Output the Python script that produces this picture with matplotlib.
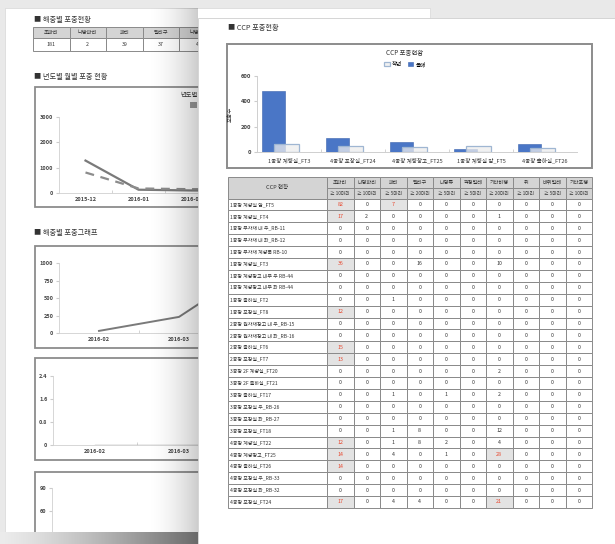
import matplotlib
matplotlib.use('Agg')
import matplotlib.pyplot as plt
import numpy as np
from matplotlib.patches import Rectangle
from matplotlib.colors import to_rgba

plt.rcParams['font.family'] = ['Noto Sans CJK KR', 'DejaVu Sans']

W, H = 615, 544

# ---------------- data ----------------
pests = ['초파리', '나방파리', '파리', '멸리구', '나방류', '깍정벌레', '기타비행', '쥐', '바퀴벌레', '기타포행']
thresholds = [10, 10, 5, 20, 5, 5, 20, 1, 5, 10]

locations = [
    '1공장 계량실 앞_FT5', '1공장 계량실_FT4', '1공장 부자재 내 우_RB-11', '1공장 부자재 내 좌_RB-12',
    '1공장 부자재 계량록 RB-10', '1공장 계량실_FT3', '1공장 계량창고 내부 우 RB-44',
    '1공장 계량창고 내부 좌 RB-44', '1공장 출하실_FT2', '1공장 포장실_FT8',
    '2공장 원자재창고 내 우_RB-15', '2공장 원자재창고 내 좌_RB-16', '2공장 출하실_FT6',
    '2공장 포장실_FT7', '3공장 2F 계량실_FT20', '3공장 2F 출하실_FT21', '3공장 출하실_FT17',
    '3공장 포장실 우_RB-26', '3공장 포장실 좌_RB-27', '3공장 포장실_FT18', '4공장 계량실_FT22',
    '4공장 계량창고_FT25', '4공장 출하실_FT26', '4공장 포장실 우_RB-33', '4공장 포장실 좌_RB-32',
    '4공장 포장실_FT24']

counts = [
    [82, 0, 7, 0, 0, 0, 0, 0, 0, 0],
    [17, 2, 0, 0, 0, 0, 1, 0, 0, 0],
    [0, 0, 0, 0, 0, 0, 0, 0, 0, 0],
    [0, 0, 0, 0, 0, 0, 0, 0, 0, 0],
    [0, 0, 0, 0, 0, 0, 0, 0, 0, 0],
    [36, 0, 0, 16, 0, 0, 10, 0, 0, 0],
    [0, 0, 0, 0, 0, 0, 0, 0, 0, 0],
    [0, 0, 0, 0, 0, 0, 0, 0, 0, 0],
    [0, 0, 1, 0, 0, 0, 0, 0, 0, 0],
    [12, 0, 0, 0, 0, 0, 0, 0, 0, 0],
    [0, 0, 0, 0, 0, 0, 0, 0, 0, 0],
    [0, 0, 0, 0, 0, 0, 0, 0, 0, 0],
    [15, 0, 0, 0, 0, 0, 0, 0, 0, 0],
    [13, 0, 0, 0, 0, 0, 0, 0, 0, 0],
    [0, 0, 0, 0, 0, 0, 2, 0, 0, 0],
    [0, 0, 0, 0, 0, 0, 0, 0, 0, 0],
    [0, 0, 1, 0, 1, 0, 2, 0, 0, 0],
    [0, 0, 0, 0, 0, 0, 0, 0, 0, 0],
    [0, 0, 0, 0, 0, 0, 0, 0, 0, 0],
    [0, 0, 1, 8, 0, 0, 12, 0, 0, 0],
    [12, 0, 1, 8, 2, 0, 4, 0, 0, 0],
    [14, 0, 4, 0, 1, 0, 28, 0, 0, 0],
    [14, 0, 0, 0, 0, 0, 0, 0, 0, 0],
    [0, 0, 0, 0, 0, 0, 0, 0, 0, 0],
    [0, 0, 0, 0, 0, 0, 0, 0, 0, 0],
    [17, 0, 4, 4, 0, 0, 21, 0, 0, 0],
]

ccp_cats = ['1공장 계량실_FT3', '4공장 포장실_FT24', '4공장 계량창고_FT25', '1공장 계량실 앞_FT5', '4공장 출하실_FT26']
ccp_this = [485, 110, 79, 21, 66]
ccp_last = [61, 47, 42, 45, 35]

summary_pests = ['초파리', '나방파리', '파리', '멸리구', '나방류']
summary_vals = [181, 2, 39, 37, 4]

monthly_cats = ['2015-12', '2016-01', '2016-02', '2016-03']
monthly_a = [1280, 130, 100, 90]
monthly_b = [810, 180, 150, 150]

graph_cats = ['2016-02', '2016-03', '2016-04']
graph_a = [30, 230, 980]
graph_b = [0, 0, 0]
graph_c = [0, 0, 0]

# ---------------- helpers ----------------
fig = plt.figure(figsize=(W / 100, H / 100), dpi=100)
fig.patch.set_facecolor('#e9e9e9')
TXT = '#333333'
FRONT_X = 198  # left edge of the front page


def rect(x0, y0, x1, y1):
    return [x0 / W, 1 - y1 / H, (x1 - x0) / W, (y1 - y0) / H]


def full_axes(z):
    a = fig.add_axes([0, 0, 1, 1], zorder=z)
    a.set_xlim(0, W)
    a.set_ylim(H, 0)
    a.axis('off')
    a.patch.set_visible(False)
    a.set_autoscale_on(False)
    return a


def cell(ax, x0, y0, w, h, text, fc='white', color=TXT, fs=4.0, ec='#8a8a8a', lw=0.7,
         ha='center', weight='normal'):
    ax.add_patch(Rectangle((x0, y0), w, h, fc=fc, ec=ec, lw=lw))
    tx = x0 + w / 2 if ha == 'center' else x0 + 2.5
    ax.text(tx, y0 + h / 2, text, ha=ha, va='center', fontsize=fs, color=color, fontweight=weight)


def gradient(ax, x0, x1, y0, y1, c0, c1, power=1.0):
    n = 256
    t = np.linspace(0, 1, n) ** power
    a = np.array(to_rgba(c0))
    b = np.array(to_rgba(c1))
    img = (a[None, :] * (1 - t[:, None]) + b[None, :] * t[:, None])[None, :, :]
    ax.imshow(img, extent=(x0, x1, y1, y0), aspect='auto', interpolation='bilinear', zorder=1)


# ---------------- back page ----------------
bg = full_axes(0)
bg.add_patch(Rectangle((5, 8), 425, 524, fc='white', ec='#d6d6d6', lw=0.5))
bg.text(34, 20, '■ 해충별 포충현황', fontsize=5.2, color=TXT, va='center')
bx, bw = 33, 36.5
for i, (p, v) in enumerate(zip(summary_pests, summary_vals)):
    cell(bg, bx + i * bw, 27, bw, 11, p, fc='#d4d4d4', fs=3.8)
    cell(bg, bx + i * bw, 38, bw, 13, str(v), fs=3.8)

bg.text(34, 77, '■ 년도별 월별 포충 현황', fontsize=5.2, color=TXT, va='center')
bg.text(34, 233, '■ 해충별 포충그래프', fontsize=5.2, color=TXT, va='center')
for (y0, y1) in [(87, 207), (246, 348), (358, 460), (472, 600)]:
    bg.add_patch(Rectangle((35, y0), 395, y1 - y0, fc='white', ec='#8c8c8c', lw=1.3))
bg.text(180, 95, '년도별', fontsize=4.5, color=TXT, ha='left', va='center')
bg.add_patch(Rectangle((190, 102), 7, 6, fc='#9a9a9a', ec='none'))


def style_line_ax(ax, cats, yt, ylim, left_px, step_px, show_x=True):
    ax.set_xlim(-0.5, len(cats) - 0.5)
    ax.set_ylim(*ylim)
    ax.set_xticks(range(len(cats)))
    labs = ax.set_xticklabels(cats, fontsize=4.0, color='#444', fontweight='bold')
    for k, lab in enumerate(labs):
        # labels that sit wholly under the front page are not visible in the picture
        if (not show_x) or left_px + (k + 0.5) * step_px - 14 > FRONT_X:
            lab.set_visible(False)
    ax.set_xticks(np.arange(len(cats) - 1) + 0.5, minor=True)
    ax.set_yticks(yt)
    ax.set_yticklabels([f'{v:g}' for v in yt], fontsize=4.0, color='#444', fontweight='bold')
    for s in ['top', 'right']:
        ax.spines[s].set_visible(False)
    for s in ['left', 'bottom']:
        ax.spines[s].set_color('#d0d0d0')
        ax.spines[s].set_linewidth(0.6)
    ax.tick_params(axis='y', length=2, color='#cccccc', pad=2)
    ax.tick_params(axis='x', which='major', length=0, pad=3)
    ax.tick_params(axis='x', which='minor', length=2, direction='in', color='#cccccc')
    ax.patch.set_visible(False)


a1 = fig.add_axes(rect(59, 117, 59 + 4 * 53, 193), zorder=1)
a1.plot(range(len(monthly_cats)), monthly_a, color='#7a7a7a', lw=1.6)
a1.plot(range(len(monthly_cats)), monthly_b, color='#8c8c8c', lw=1.6, dashes=(4, 3))
style_line_ax(a1, monthly_cats, [0, 1000, 2000, 3000], (0, 3000), 59, 53)

a2 = fig.add_axes(rect(59, 263, 59 + 3 * 80, 333), zorder=1)
a2.plot(range(len(graph_cats)), graph_a, color='#7a7a7a', lw=1.4)
style_line_ax(a2, graph_cats, [0, 250, 500, 750, 1000], (0, 1000), 59, 80)

a3 = fig.add_axes(rect(53, 376, 53 + 3 * 84, 445), zorder=1)
a3.plot(range(len(graph_cats)), graph_b, color='#9a9a9a', lw=1.0)
style_line_ax(a3, graph_cats, [0, 0.8, 1.6, 2.4], (0, 2.4), 53, 84)

a4 = fig.add_axes(rect(52, 488, 52 + 3 * 84, 557), zorder=1)
a4.plot(range(len(graph_cats)), graph_c, color='#9a9a9a', lw=1.0)
style_line_ax(a4, graph_cats, [30, 60, 90], (0, 90), 52, 84, show_x=False)

# ---------------- front layer ----------------
fr = full_axes(5)
gradient(fr, 145, 198, 8, 532, (0, 0, 0, 0.0), (0, 0, 0, 0.2), power=1.8)
gradient(fr, 0, 198, 532, 544, '#ececec', '#6a6a6a', power=1.3)
fr.add_patch(Rectangle((198, 18), 420, 530, fc='white', ec='#cfcfcf', lw=0.6, zorder=2))

fr.text(228, 28, '■ CCP 포충현황', fontsize=5.2, color=TXT, va='center', zorder=3)
fr.add_patch(Rectangle((227, 44), 365, 124, fc='white', ec='#8c8c8c', lw=1.4, zorder=3))
fr.text(405, 53, 'CCP 포충현황', fontsize=4.6, color=TXT, ha='center', va='center', zorder=4)

# table
tx0, tlab, tx1 = 228, 327, 592
cw = (tx1 - tlab) / len(pests)
hy0, hy1, hy2 = 177, 188, 198.5
rh = 11.9
fr.add_patch(Rectangle((tx0, hy0), tlab - tx0, hy2 - hy0, fc='#d4d4d4', ec='#8a8a8a', lw=0.7, zorder=3))
fr.text((tx0 + tlab) / 2, (hy0 + hy2) / 2, 'CCP 현황', fontsize=4.0, color=TXT,
        ha='center', va='center', zorder=4)
for j, (p, th) in enumerate(zip(pests, thresholds)):
    x = tlab + j * cw
    fr.add_patch(Rectangle((x, hy0), cw, hy1 - hy0, fc='#d4d4d4', ec='#8a8a8a', lw=0.7, zorder=3))
    fr.text(x + cw / 2, (hy0 + hy1) / 2, p, fontsize=3.7, color=TXT, ha='center', va='center', zorder=4)
    fr.add_patch(Rectangle((x, hy1), cw, hy2 - hy1, fc='#d4d4d4', ec='#8a8a8a', lw=0.7, zorder=3))
    fr.text(x + cw / 2, (hy1 + hy2) / 2, f'≥ {th}마리', fontsize=3.4, color=TXT,
            ha='center', va='center', zorder=4)

for i, (loc, row) in enumerate(zip(locations, counts)):
    y = hy2 + i * rh
    fr.add_patch(Rectangle((tx0, y), tlab - tx0, rh, fc='white', ec='#8a8a8a', lw=0.7, zorder=3))
    fr.text(tx0 + 2.5, y + rh / 2, loc, fontsize=3.6, color=TXT, ha='left', va='center', zorder=4)
    for j, (v, th) in enumerate(zip(row, thresholds)):
        hot = v >= th
        x = tlab + j * cw
        fr.add_patch(Rectangle((x, y), cw, rh, fc='#e3e3e3' if hot else 'white',
                               ec='#8a8a8a', lw=0.7, zorder=3))
        fr.text(x + cw / 2, y + rh / 2, str(v), fontsize=3.8,
                color='#e8452c' if hot else TXT, ha='center', va='center', zorder=4)

fr.set_xlim(0, W)
fr.set_ylim(H, 0)

# ---------------- bar chart ----------------
ax = fig.add_axes(rect(257, 76, 577, 152), zorder=6)
ax.patch.set_visible(False)
x = np.arange(len(ccp_cats))
b_this = ax.bar(x - 0.24, ccp_this, width=0.37, color='#4a76c6', edgecolor='#3b63ad', lw=0.4,
                label='올해', zorder=2)
b_last = ax.bar(x - 0.04, ccp_last, width=0.40, facecolor=(0.93, 0.93, 0.93, 0.75),
                edgecolor='#9fb6d2', lw=0.9, label='작년', zorder=3)
ax.set_xlim(-0.5, len(ccp_cats) - 0.5)
ax.set_ylim(0, 600)
ax.set_yticks([0, 200, 400, 600])
ax.set_yticklabels(['0', '200', '400', '600'], fontsize=4.2, color='#444', fontweight='bold')
ax.set_xticks(x)
ax.set_xticklabels(ccp_cats, fontsize=4.0, color=TXT)
ax.set_xticks(np.arange(len(ccp_cats) - 1) + 0.5, minor=True)
ax.tick_params(axis='x', which='major', length=0, pad=4)
ax.tick_params(axis='x', which='minor', length=2.5, direction='in', color='#cccccc')
ax.tick_params(axis='y', length=2, color='#cccccc', pad=2)
for s in ['top', 'right']:
    ax.spines[s].set_visible(False)
for s in ['left', 'bottom']:
    ax.spines[s].set_color('#cfcfcf')
    ax.spines[s].set_linewidth(0.7)
ax.set_ylabel('포충수', fontsize=4.0, color=TXT, labelpad=6)
ax.legend(handles=[b_last, b_this], loc='upper center', ncol=2, frameon=False, fontsize=4.0,
          bbox_to_anchor=(405 / W, 1 - 58 / H), bbox_transform=fig.transFigure,
          handlelength=1.0, handleheight=0.9, columnspacing=1.0, handletextpad=0.4,
          borderpad=0.1)

fig.savefig('out.png', dpi=100, facecolor=fig.get_facecolor())
